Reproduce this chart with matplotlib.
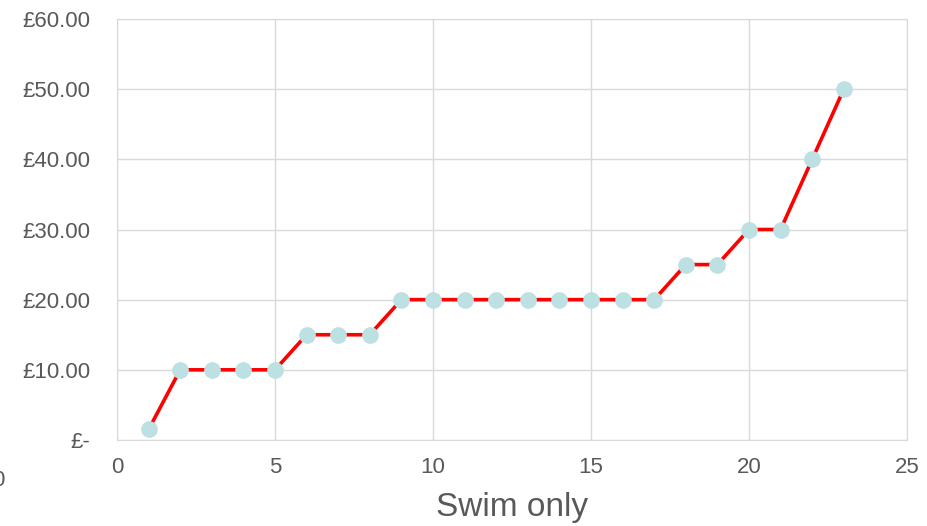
import matplotlib.pyplot as plt

plt.rcParams['font.family'] = ['Liberation Sans', 'DejaVu Sans']

# Swim only prices
entries = list(range(1, 24))
prices = [1.5, 10, 10, 10, 10, 15, 15, 15, 20, 20, 20, 20, 20, 20, 20, 20, 20,
          25, 25, 30, 30, 40, 50]

y_ticks = [0, 10, 20, 30, 40, 50, 60]
y_labels = ['£-', '£10.00', '£20.00', '£30.00', '£40.00', '£50.00', '£60.00']
x_ticks = [0, 5, 10, 15, 20, 25]

grey = '#595959'
grid = '#d9d9d9'

fig = plt.figure(figsize=(9.27, 5.26), dpi=100)
ax = fig.add_axes([117 / 927, 1 - 440 / 526, 790 / 927, 421 / 526])

ax.plot(entries, prices, color='red', linewidth=2.6, zorder=2)
ax.plot(entries, prices, 'o', color='#bde0e3', markersize=11, zorder=3)

ax.set_xlim(0, 25)
ax.set_ylim(0, 60)
ax.set_xticks(x_ticks)
ax.set_yticks(y_ticks)
ax.set_yticklabels(y_labels)
ax.grid(True, color=grid, linewidth=1)
ax.set_axisbelow(True)
for s in ax.spines.values():
    s.set_color(grid)
ax.tick_params(length=0, labelsize=16, colors=grey)
ax.tick_params(axis='y', pad=19)
ax.tick_params(axis='x', pad=12)
ax.set_xlabel('Swim only', fontsize=24, color=grey, labelpad=10)

# partial label from neighbouring chart, cut off at the edge
fig.text(-0.008, 1 - 481 / 526, '0', fontsize=16, color=grey, va='center')

fig.savefig('out.png', dpi=100)
